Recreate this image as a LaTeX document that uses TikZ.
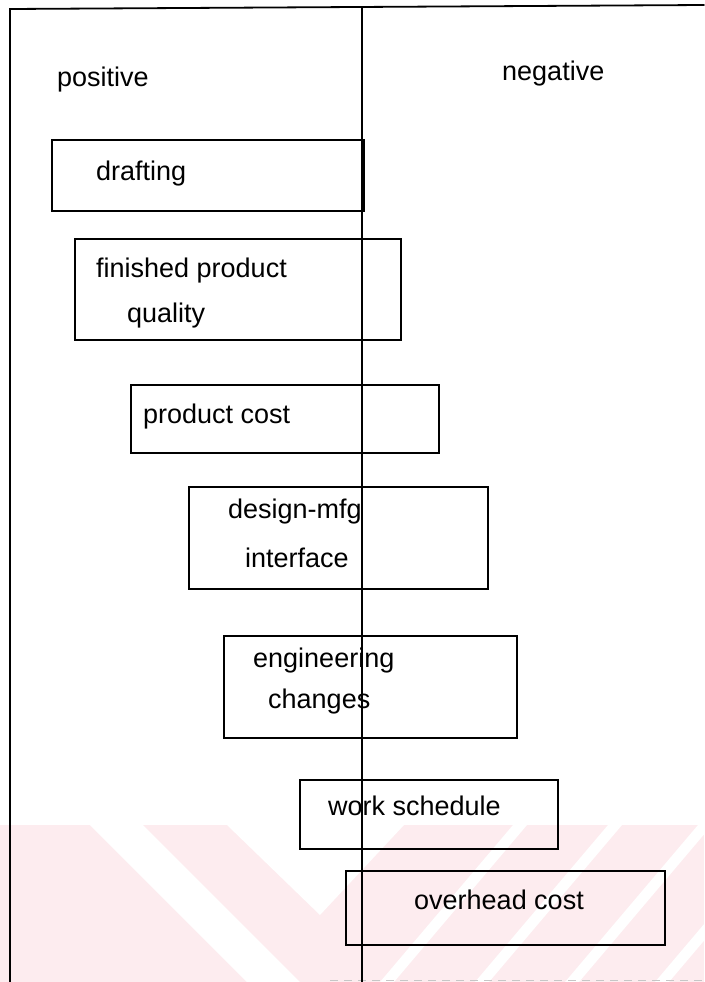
\documentclass[tikz,border=0pt]{standalone}
\usepackage{fontspec}
\setmainfont{Liberation Sans}
\definecolor{wm}{RGB}{253,236,239}
\begin{document}
\begin{tikzpicture}[x=1pt,y=-1pt,
  frameline/.style={line width=1.8pt, line cap=round},
  box/.style={draw, line width=2.2pt, rectangle, inner sep=0pt},
  lbl/.style={anchor=base west, inner sep=0pt, font=\fontsize{27}{31}\selectfont}]
\useasboundingbox (0,0) rectangle (704,982);
% faint watermark
\fill[wm] (0,825) rectangle (704,982);
\fill[white] (90,825) -- (143,825) -- (300,982) -- (247,982) -- cycle;
\fill[white] (227,825) -- (404,825) -- (320,915) -- cycle;
\foreach \c in {520,615,705,795}{
  \fill[white] (\c-7,825) -- (\c+7,825) -- (\c+7-133,982) -- (\c-7-133,982) -- cycle;
}
\draw[gray!45, line width=1pt, dash pattern=on 8pt off 6pt] (330,980) -- (704,980);
% frame
\coordinate (tl) at (10,9);
\coordinate (tr) at (704,5);
\coordinate (bl) at (10,982);
\coordinate (mt) at (362,7);
\coordinate (mb) at (362,982);
\draw[frameline] (tr) -- (tl) -- (bl);
% column labels
\node[lbl] (pos) at (57,86) {positive};
\node[lbl] (neg) at (502,81) {negative};
% boxes
\node[box, minimum width=312pt, minimum height=71pt] (b1) at (208,175.5) {};
\node[box, minimum width=326pt, minimum height=101pt] (b2) at (238,289.5) {};
\node[box, minimum width=308pt, minimum height=68pt] (b3) at (285,419) {};
\node[box, minimum width=299pt, minimum height=102pt] (b4) at (338.5,538) {};
\node[box, minimum width=293pt, minimum height=102pt] (b5) at (370.5,687) {};
\node[box, minimum width=258pt, minimum height=69pt] (b6) at (429,814.5) {};
\node[box, minimum width=319pt, minimum height=74pt] (b7) at (505.5,908) {};
% texts
\node[lbl] (t1) at (96,180) {drafting};
\node[lbl] (t2a) at (96,277) {finished product};
\node[lbl] (t2b) at (127,322) {quality};
\node[lbl] (t3) at (143,423) {product cost};
\node[lbl] (t4a) at (228,518) {design-mfg};
\node[lbl] (t4b) at (245,567) {interface};
\node[lbl] (t5a) at (253,667) {engineering};
\node[lbl] (t5b) at (268,708) {changes};
\node[lbl] (t6) at (328,815) {work schedule};
\node[lbl] (t7) at (414,909) {overhead cost};
% dividing line on top
\draw[frameline] (mt) -- (mb);
\end{tikzpicture}
\end{document}
